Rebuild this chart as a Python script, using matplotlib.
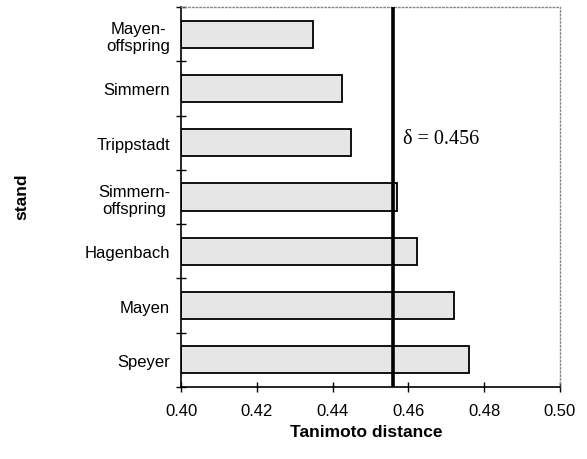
import matplotlib
matplotlib.use("Agg")
import matplotlib.pyplot as plt
from matplotlib.ticker import FixedLocator

plt.rcParams['font.family'] = ['Liberation Sans', 'DejaVu Sans']

# data, top to bottom as in the figure
stands = ['Mayen-\noffspring', 'Simmern', 'Trippstadt', 'Simmern-\noffspring',
          'Hagenbach', 'Mayen', 'Speyer']
distances = [0.4347, 0.4426, 0.4448, 0.4571, 0.4622, 0.4719, 0.4759]
delta = 0.456
xticks = [0.40, 0.42, 0.44, 0.46, 0.48, 0.50]

fig = plt.figure(figsize=(5.87, 4.60), dpi=100)
ax = fig.add_axes([0.3084, 0.1565, 0.6456, 0.826])

ypos = list(range(len(stands)))[::-1]
ax.barh(ypos, [d - 0.40 for d in distances], left=0.40, height=0.5,
        color='#e6e6e6', edgecolor='black', linewidth=1.3, zorder=2)
ax.axvline(delta, color='black', linewidth=2.6, zorder=3)
ax.text(0.4587, 4.08, '\u03b4 = 0.456', fontsize=14.5, va='center', ha='left',
        family=['Liberation Serif', 'DejaVu Serif'])

ax.set_xlim(0.40, 0.50)
ax.set_ylim(-0.5, len(stands) - 0.5)
ax.set_xticks(xticks)
ax.set_xticklabels(['%.2f' % v for v in xticks], fontsize=12)
ax.set_yticks(ypos)
ax.set_yticklabels(stands, fontsize=12, multialignment='center')
ax.yaxis.set_minor_locator(FixedLocator([i - 0.5 for i in range(len(stands) + 1)]))
ax.tick_params(axis='y', which='major', length=0, pad=8)
ax.tick_params(axis='y', which='minor', length=7, direction='inout', width=1)
ax.tick_params(axis='x', which='major', length=7, direction='inout', width=1, pad=8)

for s in ['top', 'right']:
    ax.spines[s].set_linestyle(':')
    ax.spines[s].set_color('#888888')
    ax.spines[s].set_linewidth(1)
for s in ['left', 'bottom']:
    ax.spines[s].set_linewidth(1.2)

ax.set_xlabel('Tanimoto distance', fontsize=12.5, fontweight='bold')
ax.set_ylabel('stand', fontsize=12.5, fontweight='bold')
ax.xaxis.set_label_coords(0.49, -0.097)
ax.yaxis.set_label_coords(-0.40, 0.503)

fig.savefig('out.png', dpi=100)
